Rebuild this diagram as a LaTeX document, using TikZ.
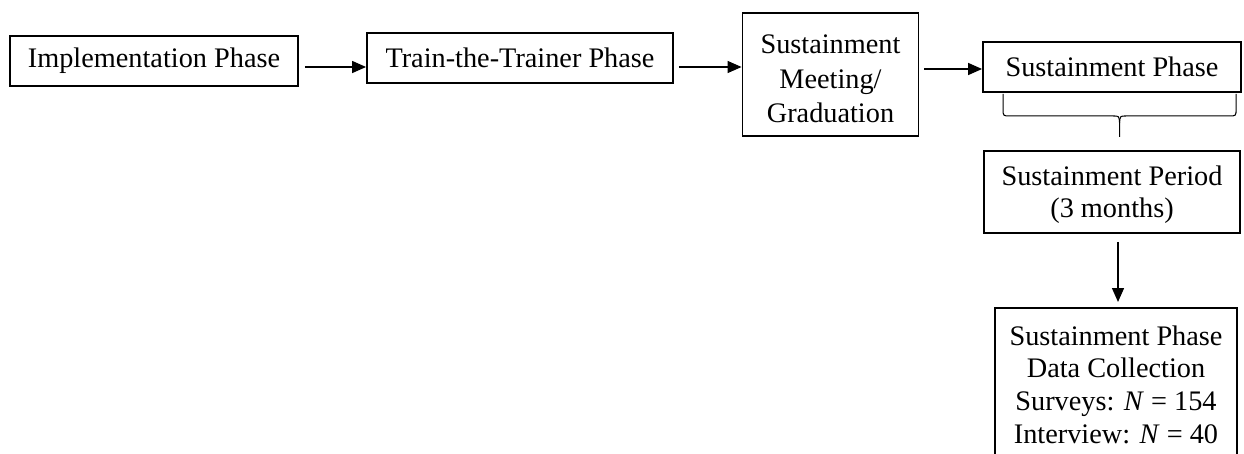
\documentclass[tikz,border=0pt]{standalone}
\usepackage{fontspec}
\setmainfont{Liberation Serif}
\usetikzlibrary{arrows.meta,calc}
\begin{document}
\begin{tikzpicture}[x=0.02cm,y=-0.02cm,
  box/.style={draw,line width=1.1pt,inner sep=0pt,align=center,font=\fontsize{16.1}{18.6}\selectfont},
  arr/.style={line width=0.8pt,-{Triangle[length=0.28cm,width=0.24cm]}},
  bracestyle/.style={line width=0.6pt}]
\useasboundingbox (0,0) rectangle (1244,453);
\node[box,minimum width=5.76cm,minimum height=1cm] (b1) at (154,61) {Implementation Phase};
\node[box,minimum width=6.12cm,minimum height=1cm] (b2) at (520,58) {Train-the-Trainer Phase};
\node[box,minimum width=3.52cm,minimum height=2.46cm,font=\fontsize{16.1}{19.9}\selectfont] (b3) at (830.5,74.5) {\rule{0pt}{0.546cm}Sustainment\\Meeting/\\Graduation};
\node[box,minimum width=5.16cm,minimum height=1cm] (b4) at (1112,67) {Sustainment Phase};
\node[box,minimum width=5.12cm,minimum height=1.64cm,font=\fontsize{16.1}{18.2}\selectfont] (b5) at (1112,192) {\rule{0pt}{0.5cm}Sustainment Period\\(3 months)};
\node[box,anchor=north,minimum width=4.84cm,inner ysep=0.354cm,font=\fontsize{16.1}{18.6}\selectfont] (b6) at (1116,307) {Sustainment Phase\\Data Collection\\Surveys: \textit{N} = 154\\Interview: \textit{N} = 40};
\draw[arr] ($(b1.east)+(6,6)$) -- ($(b2.west)+(0,9)$);
\draw[arr] ($(b2.east)+(5,9)$) -- ($(b3.west)+(0,-7.5)$);
\draw[arr] ($(b3.east)+(5,-5.5)$) -- ($(b4.west)+(0,2)$);
\begin{scope}[shift={(b4.south west)}]
  \draw[bracestyle] (21,1) -- (21,16) .. controls (21,23) .. (28,23) -- (131,23)
    .. controls (137,23) .. (137.5,30) -- (137.5,44);
  \draw[bracestyle] (254,1) -- (254,16) .. controls (254,23) .. (247,23) -- (144,23)
    .. controls (138,23) .. (137.5,30);
\end{scope}
\draw[arr] ($(b5.south)+(6,8)$) -- ($(b6.north)+(2,-5)$);
\end{tikzpicture}
\end{document}
